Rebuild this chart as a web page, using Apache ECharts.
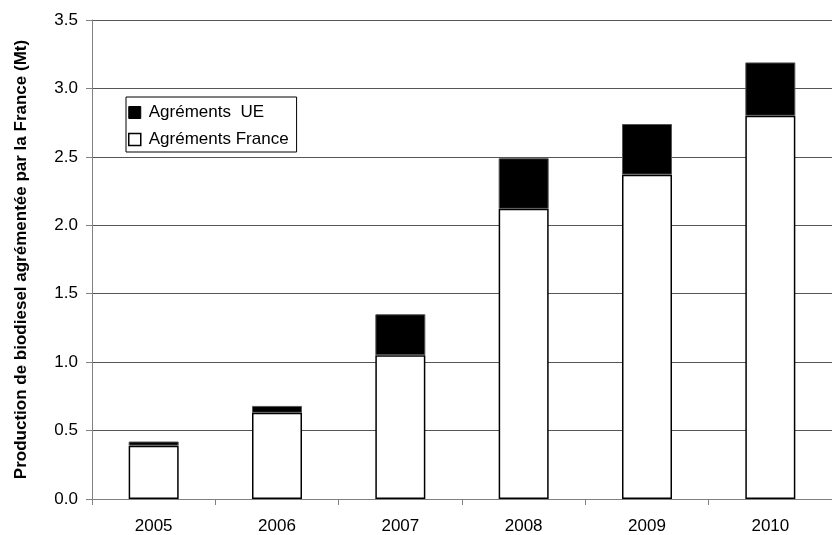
<!DOCTYPE html>
<html>
<head>
<meta charset="utf-8">
<script src="https://cdn.jsdelivr.net/npm/echarts@6/dist/echarts.min.js"></script>
<style>
html,body{margin:0;padding:0;background:#fff;}
#c{width:832px;height:535px;}
</style>
</head>
<body>
<div id="c"></div>
<script>
const years = ['2005','2006','2007','2008','2009','2010'];
const franceValues = [0.39, 0.63, 1.05, 2.12, 2.37, 2.80];
const ueValues = [0.03, 0.05, 0.30, 0.37, 0.37, 0.39];
const seriesNames = ['Agréments  UE', 'Agréments France'];
const yTitle = 'Production de biodiesel agrémentée par la France (Mt)';

const font = '"Liberation Sans", Arial, sans-serif';
const chart = echarts.init(document.getElementById('c'), null, {renderer: 'canvas'});
chart.setOption({
  backgroundColor: '#fff',
  animation: false,
  textStyle: {fontFamily: font, color: '#000'},
  grid: {left: 92, right: -7, top: 20, bottom: 34, containLabel: false},
  legend: {
    orient: 'vertical',
    left: 126, top: 97,
    data: [
      {name: seriesNames[0], itemStyle: {color: '#000', borderColor: '#000', borderWidth: 1}},
      {name: seriesNames[1], itemStyle: {color: '#fff', borderColor: '#000', borderWidth: 1.5}}
    ],
    backgroundColor: '#fff',
    borderColor: '#000', borderWidth: 1,
    padding: [7, 8, 4, 2],
    itemWidth: 12, itemHeight: 12, itemGap: 10,
    icon: 'rect',
    textStyle: {fontFamily: font, fontSize: 17, color: '#000', padding: [0, 0, 0, 3]}
  },
  xAxis: {
    type: 'category',
    data: years,
    boundaryGap: true,
    axisLine: {lineStyle: {color: '#808080', width: 1}},
    axisTick: {show: true, length: 6, lineStyle: {color: '#808080'}},
    axisLabel: {fontFamily: font, fontSize: 17, color: '#000', margin: 19}
  },
  yAxis: {
    type: 'value',
    min: 0, max: 3.5, interval: 0.5,
    name: yTitle,
    nameLocation: 'middle',
    nameGap: 62,
    nameTextStyle: {fontFamily: font, fontSize: 17, fontWeight: 'bold', color: '#000'},
    axisLine: {show: true, lineStyle: {color: '#808080', width: 1}},
    axisTick: {show: true, length: 6, lineStyle: {color: '#808080'}},
    axisLabel: {fontFamily: font, fontSize: 17, color: '#000', margin: 14,
      formatter: v => v.toFixed(1)},
    splitLine: {show: true, lineStyle: {color: '#555', width: 1}}
  },
  series: [
    {
      name: seriesNames[1],
      type: 'bar', stack: 'total',
      data: franceValues,
      barWidth: 50,
      itemStyle: {color: '#fff', borderColor: '#000', borderWidth: 1.5}
    },
    {
      name: seriesNames[0],
      type: 'bar', stack: 'total',
      data: ueValues,
      barWidth: 50,
      itemStyle: {color: '#000', borderColor: '#555', borderWidth: 1}
    }
  ]
});
</script>
</body>
</html>
